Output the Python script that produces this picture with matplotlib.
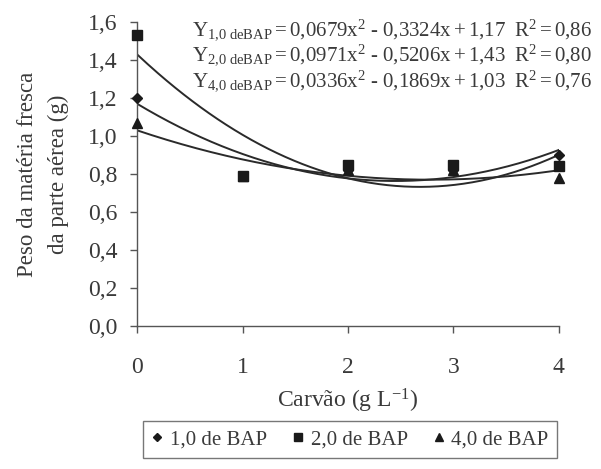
import numpy as np
import matplotlib
matplotlib.use("Agg")
import matplotlib.pyplot as plt
from matplotlib.lines import Line2D

plt.rcParams['font.family'] = ['Liberation Serif', 'DejaVu Serif']
plt.rcParams['mathtext.fontset'] = 'custom'
plt.rcParams['mathtext.rm'] = 'Liberation Serif'
plt.rcParams['mathtext.it'] = 'Liberation Serif:italic'

carvao = [0, 1, 2, 3, 4]
series_names = ["1,0 de BAP", "2,0 de BAP", "4,0 de BAP"]
bap_1 = [1.20, 0.79, 0.82, 0.82, 0.90]
bap_2 = [1.53, 0.79, 0.85, 0.85, 0.84]
bap_4 = [1.07, 0.79, 0.82, 0.82, 0.78]
coef_1 = [0.0679, -0.3324, 1.17]
coef_2 = [0.0971, -0.5206, 1.43]
coef_4 = [0.0336, -0.1869, 1.03]
r2 = ["0,86", "0,80", "0,76"]
eq_labels = ["1,0", "2,0", "4,0"]
yticks = [0.0, 0.2, 0.4, 0.6, 0.8, 1.0, 1.2, 1.4, 1.6]

tc = '#3a3a3a'
fig = plt.figure(figsize=(6.01, 4.69), dpi=100)
ax = fig.add_axes([0.228, 0.305, 0.702, 0.648])

markers = ['D', 's', '^']
msizes = [5, 6.5, 7.5]
datas = [bap_1, bap_2, bap_4]
coefs = [coef_1, coef_2, coef_4]
xs = np.linspace(0, 4, 200)
for d, c in zip(datas, coefs):
    ax.plot(xs, np.polyval(c, xs), color='#2a2a2a', lw=1.4, zorder=2)
for d, m, ms in zip(datas[::-1], markers[::-1], msizes[::-1]):
    ax.plot(carvao, d, linestyle='none', marker=m, markersize=ms, color='#1a1a1a', zorder=3, clip_on=False)

ax.set_xlim(0, 4)
ax.set_ylim(0, 1.6)
ax.set_xticks(carvao)
ax.set_xticklabels([str(c) for c in carvao])
ax.set_yticks(yticks)
ax.set_yticklabels([f"{v:.1f}".replace('.', ',') for v in yticks])
for s in ['top', 'right']:
    ax.spines[s].set_visible(False)
for s in ['left', 'bottom']:
    ax.spines[s].set_color('#555555')
    ax.spines[s].set_linewidth(1.0)
ax.tick_params(axis='both', colors='#555555', labelcolor=tc, labelsize=17, length=5, width=1.0, direction='out')
ax.tick_params(axis='x', pad=17)
ax.tick_params(axis='y', pad=9)

ax.set_xlabel(r"Carvão (g L$^{\mathrm{-1}}$)", fontsize=17, color=tc, labelpad=7)
ax.set_ylabel("Peso da matéria fresca\nda parte aérea (g)", fontsize=16.5, color=tc, labelpad=14, linespacing=1.55)

for i, (lab, c, r) in enumerate(zip(eq_labels, coefs, r2)):
    a = f"{c[0]:.4f}".replace('.', '{,}')
    b = f"{abs(c[1]):.4f}".replace('.', '{,}')
    k = f"{c[2]:.2f}".replace('.', '{,}')
    rr = r.replace(',', '{,}')
    txt = (r"$\mathrm{Y}_{\mathrm{" + lab.replace(',', '{,}') + r"\ deBAP}} = " + a +
           r"\mathrm{x}^2\ \text{-}\ " + b + r"\mathrm{x} + " + k +
           r"\ \ \mathrm{R}^2 = " + rr + "$")
    fig.text(0.985, 0.935 - i * 0.054, txt, fontsize=15, color=tc, ha='right', va='center')

handles = [Line2D([], [], linestyle='none', marker=m, markersize=ms * 0.85, color='#1a1a1a')
           for m, ms in zip(markers, msizes)]
leg = fig.legend(handles, series_names, loc='center', bbox_to_anchor=(0.582, 0.063), ncol=3,
                 fontsize=15, frameon=True, fancybox=False, edgecolor='#555555',
                 handlelength=0.6, handletextpad=0.3, columnspacing=1.2, borderpad=0.4)
for t in leg.get_texts():
    t.set_color(tc)
leg.get_frame().set_linewidth(1.0)

fig.savefig("out.png", dpi=100)
